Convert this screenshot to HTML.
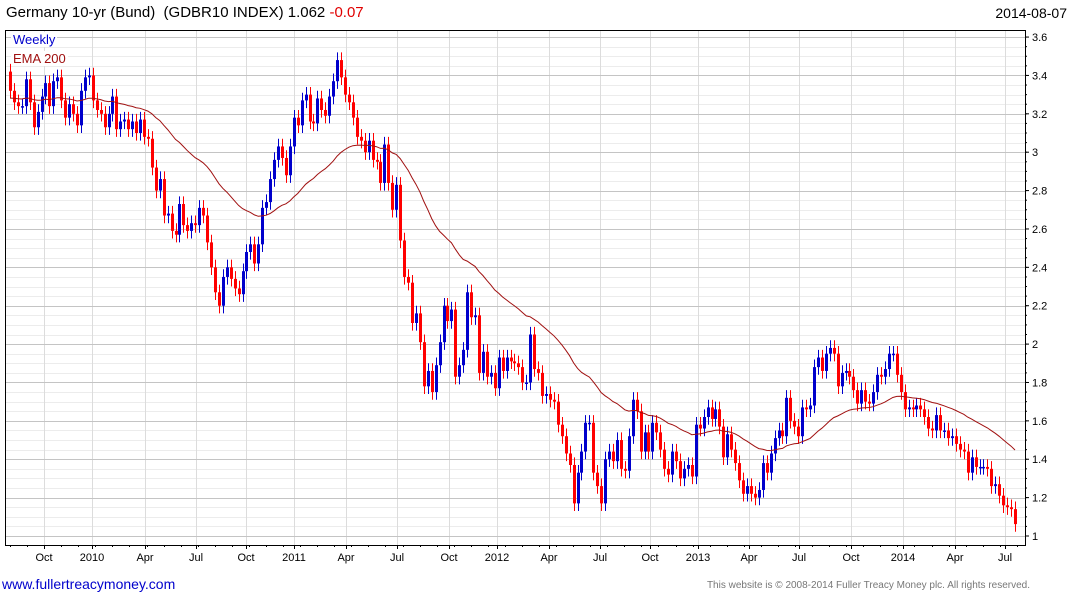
<!DOCTYPE html>
<html><head><meta charset="utf-8"><style>
body{margin:0;background:#fff;width:1075px;height:600px;overflow:hidden;font-family:"Liberation Sans",sans-serif}
svg text{font-family:"Liberation Sans",sans-serif}
</style></head><body>
<svg id="c" width="1075" height="600"></svg>
<script>
const closes=[3.32,3.26,3.24,3.24,3.38,3.26,3.13,3.21,3.29,3.36,3.24,3.37,3.39,3.27,3.18,3.25,3.20,3.14,3.32,3.39,3.40,3.27,3.22,3.20,3.13,3.20,3.29,3.12,3.16,3.17,3.12,3.16,3.10,3.17,3.08,3.07,2.92,2.80,2.86,2.67,2.68,2.59,2.57,2.73,2.62,2.59,2.63,2.62,2.71,2.67,2.53,2.40,2.27,2.20,2.35,2.40,2.34,2.29,2.26,2.38,2.48,2.52,2.42,2.52,2.71,2.74,2.86,2.96,3.03,2.97,2.88,3.03,3.18,3.14,3.27,3.30,3.16,3.15,3.28,3.22,3.19,3.29,3.37,3.48,3.39,
3.30,3.26,3.18,3.08,3.06,3.00,3.06,2.96,2.95,2.84,3.04,2.84,2.70,2.83,2.54,2.35,2.32,2.11,2.16,2.01,1.78,1.86,1.75,1.89,2.01,2.20,2.12,2.18,1.83,1.89,1.97,2.27,2.14,2.15,1.85,1.96,1.83,1.85,1.77,1.93,1.86,1.93,1.91,1.90,1.88,1.80,1.80,2.05,1.87,1.85,1.73,1.74,1.71,1.70,1.58,1.52,1.43,1.37,1.17,1.33,1.44,1.59,1.59,1.33,1.26,1.17,1.40,1.44,1.39,1.50,1.35,1.34,1.52,1.71,1.65,1.44,1.54,1.44,1.59,1.54,1.45,1.35,1.32,1.44,1.39,1.30,1.35,1.37,
1.31,1.58,1.56,1.62,1.67,1.61,1.66,1.57,1.41,1.53,1.45,1.38,1.29,1.22,1.26,1.22,1.20,1.24,1.38,1.33,1.43,1.51,1.55,1.52,1.72,1.60,1.57,1.52,1.67,1.66,1.68,1.88,1.93,1.86,1.95,1.98,1.95,1.78,1.85,1.86,1.83,1.76,1.69,1.76,1.70,1.69,1.75,1.84,1.83,1.87,1.95,1.95,1.84,1.75,1.66,1.67,1.66,1.68,1.66,1.62,1.56,1.55,1.63,1.55,1.55,1.51,1.52,1.48,1.45,1.44,1.33,1.41,1.36,1.36,1.36,1.35,1.26,1.27,1.21,1.16,1.15,1.14,1.062];
const firstOpen=3.42;
const yTicks=[1,1.2,1.4,1.6,1.8,2,2.2,2.4,2.6,2.8,3,3.2,3.4,3.6];
const xLabels=["Oct","2010","Apr","Jul","Oct","2011","Apr","Jul","Oct","2012","Apr","Jul","Oct","2013","Apr","Jul","Oct","2014","Apr","Jul"];
const xLabelPos=[44,92,145,196,246,294,346,397,449,497,549,600,650,698,749,799,851,903,955,1005];
const NS="http://www.w3.org/2000/svg";
const svg=document.getElementById('c');
function el(t,a,p){const e=document.createElementNS(NS,t);for(const k in a)e.setAttribute(k,a[k]);(p||svg).appendChild(e);return e;}
const L=5,R=1025,T=30,B=545;
const y=v=>536-(v-1)*191.9;
const n=closes.length;
const x=i=>10+i*(1015-10)/(n-1);
// minor grid
const g=el('g',{});


for(let v=1;v<=3.66;v+=0.05){const yy=Math.round(y(v))+0.5;if(yy<T)continue;el('line',{x1:L,x2:R,y1:yy,y2:yy,stroke:'#ececec'},g);}
for(const p of xLabelPos)el('line',{x1:p+0.5,x2:p+0.5,y1:T,y2:B,stroke:'#dcdcdc'},g);
for(const v of yTicks){const yy=Math.round(y(v))+0.5;el('line',{x1:L,x2:R,y1:yy,y2:yy,stroke:'#c4c4c4'},g);}
// frame
const fr=el('rect',{x:L+0.5,y:T+0.5,width:R-L,height:B-T,fill:'none',stroke:'#000'});


// y axis labels and ticks
for(const v of yTicks){const yy=y(v);
 el('line',{x1:R,x2:R+4,y1:yy,y2:yy,stroke:'#000'});
 const t=el('text',{x:R+7,y:yy+4,'font-size':11,fill:'#000'});t.textContent=String(v);
 
 }
for(let v=1;v<=3.62;v+=0.05){el('line',{x1:R,x2:R+2,y1:y(v),y2:y(v),stroke:'#000'});}
// x labels
xLabels.forEach((s,i)=>{el('line',{x1:xLabelPos[i]+0.5,x2:xLabelPos[i]+0.5,y1:B,y2:B+4,stroke:'#000'});
 const t=el('text',{x:xLabelPos[i],y:561,'font-size':11,'text-anchor':'middle'});t.textContent=s;
 
 });
for(let i=0;i<n;i+=4.33){el('line',{x1:Math.round(x(i))+0.5,x2:Math.round(x(i))+0.5,y1:B,y2:B+2,stroke:'#000'});}
// candles
const cg=el('g',{});


for(let i=0;i<n;i++){
 const o=i?closes[i-1]:firstOpen,c=closes[i];
 const col=c>=o?'#0000cc':'#ff0000';
 const hi=Math.max(o,c)+0.04,lo=Math.min(o,c)-0.04;
 const cx=Math.round(x(i));
 const w=el('line',{x1:cx+0.5,x2:cx+0.5,y1:y(hi),y2:y(lo),stroke:col},cg);
 
 
 const top=y(Math.max(o,c)),h=Math.max(1.5,Math.abs(y(o)-y(c)));
 const r=el('rect',{x:cx-1,y:top,width:3,height:h,fill:col},cg);
 
 
}
// EMA
let e=3.28,pts=[];const a=2/41;
for(let i=0;i<n;i++){e=e+a*(closes[i]-e);pts.push(x(i).toFixed(1)+','+y(e).toFixed(1));}
const pl=el('polyline',{points:pts.join(' '),fill:'none',stroke:'#a01010','stroke-width':1});


</script>
<div style="position:absolute;left:11px;top:32px;font-size:13px;color:#0000cc;background:#fff;padding:0 2px">Weekly</div>
<div style="position:absolute;left:11px;top:51px;font-size:13px;color:#a01010;background:#fff;padding:0 2px">EMA 200</div>
<div style="position:absolute;left:6px;top:4px;font-size:15px;color:#000">Germany 10-yr (Bund)&nbsp; (GDBR10 INDEX) 1.062 <span style="color:#e00000">-0.07</span></div>
<div style="position:absolute;right:8px;top:5px;font-size:14px;color:#000">2014-08-07</div>
<div style="position:absolute;left:2px;top:576px;font-size:14px;color:#0000cc">www.fullertreacymoney.com</div>
<div style="position:absolute;right:45px;top:580px;font-size:10px;color:#777">This website is © 2008-2014 Fuller Treacy Money plc. All rights reserved.</div>
</body></html>
